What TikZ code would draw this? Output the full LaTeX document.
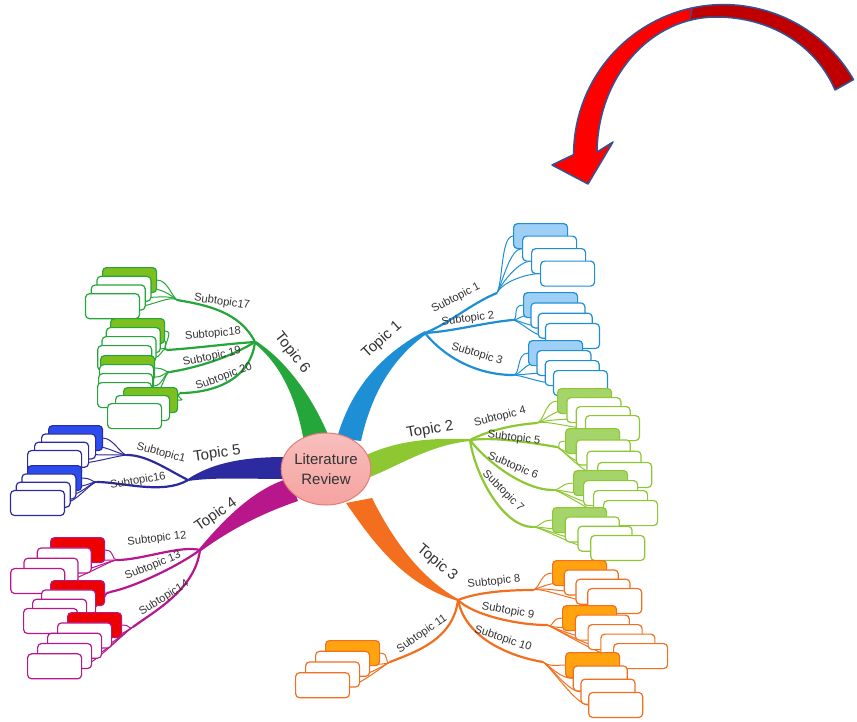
\documentclass[tikz,border=0pt]{standalone}
\usepackage{fontspec}
\setmainfont{Liberation Sans}
\usetikzlibrary{shapes.geometric}
\pgfdeclarelayer{back}
\pgfsetlayers{back,main}

\definecolor{tblue}{HTML}{1E8FD5}
\definecolor{tbluefill}{HTML}{9ECFF5}
\definecolor{tgreen}{HTML}{8DC832}
\definecolor{tgreenfill}{HTML}{A5D46A}
\definecolor{torange}{HTML}{F36E1E}
\definecolor{torangefill}{HTML}{FFA30F}
\definecolor{tmagenta}{HTML}{B8178C}
\definecolor{tred}{HTML}{EE0000}
\definecolor{tindigo}{HTML}{2B2B9F}
\definecolor{tindigofill}{HTML}{2C4DEE}
\definecolor{tdkgreen}{HTML}{24A63A}
\definecolor{tdkgreenfill}{HTML}{7CBF1F}
\definecolor{arrowred}{HTML}{FF0000}
\definecolor{arrowdark}{HTML}{C00000}
\definecolor{arrowedge}{HTML}{2F5597}
\definecolor{txt}{HTML}{333333}
\definecolor{hubfill}{HTML}{F5A3A0}
\definecolor{hubedge}{HTML}{E47B78}

% stack of leaf boxes: name, line colour, first fill, x, y, dx, dy, count
\newcommand{\leaves}[8]{%
  \node[leaf, draw=#2, fill=#3] (#1-1) at (#4,#5) {};
  \foreach \k in {2,...,#8}
    \node[leaf, draw=#2] (#1-\k) at ({#4+(\k-1)*(#6)},{#5+(\k-1)*(#7)}) {};
}
% thin lines from a fan point to every box of a stack
\newcommand{\fanout}[6]{%
  \begin{pgfonlayer}{back}
  \foreach \k in {1,...,#3}
    \draw[fan, #2] (#1f) .. controls +(#4) and +(#6) .. (#1-\k.#5);
  \end{pgfonlayer}
}
% outline of the curved arrow
\newcommand{\arrowpath}{([shift={(-30:150)}]ac) arc[start angle=-30,end angle=-180,radius=150]
  -- (552,165) -- (588,184) -- (613,142) -- (597,152)
  .. controls (598,75) and (652,17) .. (716,17)
  .. controls (770,17) and (816,45) .. (835,90) -- cycle}

\begin{document}
\begin{tikzpicture}[x=1pt,y=-1pt,
  leaf/.style={rectangle, rounded corners=4pt, anchor=north west, minimum width=54pt,
    minimum height=25pt, inner sep=0pt, line width=1.2pt, fill=white},
  fan/.style={line width=1pt},
  sub/.style={line width=2.2pt},
  sublbl/.style={font=\fontsize{11.2}{13}\selectfont, text=txt, inner sep=0.5pt},
  toplbl/.style={font=\fontsize{15}{17}\selectfont, text=txt, inner sep=0.5pt},
  hub/.style={ellipse, minimum width=88pt, minimum height=72pt, inner sep=0pt, top color=hubfill!70!white,
    bottom color=hubfill, draw=hubedge, line width=1pt, align=center, text=txt, font=\fontsize{15}{20}\selectfont}]

\useasboundingbox (0,0) rectangle (857,721);

% big curved arrow
\coordinate (ac) at (723.6,154.6);
\fill[arrowred] \arrowpath;
\fill[arrowdark] ([shift={(-30:150)}]ac) arc[start angle=-30,end angle=-102,radius=150]
  -- (690,19) .. controls (700,17.5) and (708,17) .. (716,17)
  .. controls (770,17) and (816,45) .. (835,90) -- cycle;
\draw[arrowedge, line width=1.2pt] ([shift={(-102:150)}]ac) -- (690,19);
\draw[arrowedge, line width=1.5pt, line join=round] \arrowpath;

% junctions
\coordinate (t1) at (425,333);
\coordinate (t2) at (470,440);
\coordinate (t3) at (458,600);
\coordinate (t4) at (200,550);
\coordinate (t5) at (188,480);
\coordinate (t6) at (255,342);

% main branches
\fill[tblue] (337,438) .. controls (350,392) and (378,356) .. (425,331)
  -- (425,335) .. controls (388,362) and (370,400) .. (361,441) -- cycle;
\fill[tgreen] (366,455) .. controls (400,440) and (430,438) .. (470,439)
  -- (470,441) .. controls (430,445) and (400,465) .. (370,477) -- cycle;
\fill[torange] (346,503) .. controls (375,545) and (405,585) .. (458,601)
  -- (458,599) .. controls (415,575) and (388,530) .. (372,498) -- cycle;
\fill[tmagenta] (290,478) .. controls (255,488) and (225,518) .. (199,549)
  -- (201,551) .. controls (230,530) and (260,514) .. (298,501) -- cycle;
\fill[tindigo] (285,457) .. controls (250,457) and (215,461) .. (188,479)
  -- (188,481) .. controls (215,477) and (250,479) .. (285,479) -- cycle;
\fill[tdkgreen] (304,442) .. controls (297,402) and (283,366) .. (254,343)
  -- (256,341) .. controls (288,362) and (314,400) .. (329,437) -- cycle;

% fan points
\coordinate (s1f) at (497,293);
\coordinate (s2f) at (512,320);
\coordinate (s3f) at (513,375);
\coordinate (s4f) at (537,423);
\coordinate (s5f) at (557,447);
\coordinate (s6f) at (553,490);
\coordinate (s7f) at (533,527);
\coordinate (s8f) at (533,590);
\coordinate (s9f) at (547,625);
\coordinate (s10f) at (543,662);
\coordinate (s11f) at (390,662);
\coordinate (s12f) at (117,560);
\coordinate (s13f) at (110,592);
\coordinate (s14f) at (133,627);
\coordinate (s15f) at (127,455);
\coordinate (s16f) at (97,482);
\coordinate (s17f) at (177,300);
\coordinate (s18f) at (167,350);
\coordinate (s19f) at (170,372);
\coordinate (s20f) at (180,393);

% subtopic lines
\draw[sub, tblue] (t1) .. controls +(25,-10) and +(-25,10) .. (s1f);
\draw[sub, tblue] (t1) .. controls +(30,-2) and +(-30,3) .. (s2f);
\draw[sub, tblue] (t1) .. controls +(20,25) and +(-35,0) .. (s3f);
\draw[sub, tgreen] (t2) .. controls +(20,-10) and +(-25,2) .. (s4f);
\draw[sub, tgreen] (t2) .. controls +(25,-3) and +(-30,-5) .. (s5f);
\draw[sub, tgreen] (t2) .. controls +(15,20) and +(-30,0) .. (s6f);
\draw[sub, tgreen] (t2) .. controls +(5,35) and +(-30,0) .. (s7f);
\draw[sub, torange] (t3) .. controls +(20,-8) and +(-25,0) .. (s8f);
\draw[sub, torange] (t3) .. controls +(15,15) and +(-30,0) .. (s9f);
\draw[sub, torange] (t3) .. controls +(8,40) and +(-30,-5) .. (s10f);
\draw[sub, torange] (t3) .. controls +(-5,40) and +(25,-10) .. (s11f);
\draw[sub, tmagenta] (t4) .. controls +(-20,-5) and +(25,0) .. (s12f);
\draw[sub, tmagenta] (t4) .. controls +(-20,15) and +(25,-5) .. (s13f);
\draw[sub, tmagenta] (t4) .. controls +(-5,40) and +(20,-15) .. (s14f);
\draw[sub, tindigo] (t5) .. controls +(-20,-10) and +(20,0) .. (s15f);
\draw[sub, tindigo] (t5) .. controls +(-25,15) and +(25,0) .. (s16f);
\draw[sub, tdkgreen] (t6) .. controls +(-15,-30) and +(30,5) .. (s17f);
\draw[sub, tdkgreen] (t6) .. controls +(-30,2) and +(30,-2) .. (s18f);
\draw[sub, tdkgreen] (t6) .. controls +(-25,15) and +(30,-5) .. (s19f);
\draw[sub, tdkgreen] (t6) .. controls +(-5,40) and +(30,0) .. (s20f);

% centre
\node[hub] (hub) at (326,469) {Literature\\Review};

% topic labels
\node[toplbl, rotate=42] (lt1) at (382,340) {Topic 1};
\node[toplbl, rotate=10] (lt2) at (430,430) {Topic 2};
\node[toplbl, rotate=-40] (lt3) at (437,563) {Topic 3};
\node[toplbl, rotate=35] (lt4) at (216,515) {Topic 4};
\node[toplbl, rotate=8] (lt5) at (217,454) {Topic 5};
\node[toplbl, rotate=-52] (lt6) at (292,353) {Topic 6};

% subtopic labels
\node[sublbl, rotate=28] (l1) at (456,298) {Subtopic 1};
\node[sublbl, rotate=8] (l2) at (468,319) {Subtopic 2};
\node[sublbl, rotate=-17] (l3) at (477,354) {Subtopic 3};
\node[sublbl, rotate=14] (l4) at (500,417) {Subtopic 4};
\node[sublbl, rotate=-7] (l5) at (514,438) {Subtopic 5};
\node[sublbl, rotate=-22] (l6) at (513,466) {Subtopic 6};
\node[sublbl, rotate=-45] (l7) at (503,491) {Subtopic 7};
\node[sublbl, rotate=6] (l8) at (494,582) {Subtopic 8};
\node[sublbl, rotate=-10] (l9) at (508,611) {Subtopic 9};
\node[sublbl, rotate=-18] (l10) at (503,639) {Subtopic 10};
\node[sublbl, rotate=35] (l11) at (422,634) {Subtopic 11};
\node[sublbl, rotate=7] (l12) at (157,539) {Subtopic 12};
\node[sublbl, rotate=22] (l13) at (153,566) {Subtopic 13};
\node[sublbl, rotate=32] (l14) at (164,598) {Subtopic14};
\node[sublbl, rotate=-15] (l15) at (161,453) {Subtopic1};
\node[sublbl, rotate=10] (l16) at (138,481) {Subtopic16};
\node[sublbl, rotate=-8] (l17) at (222,302) {Subtopic17};
\node[sublbl, rotate=5] (l18) at (213,334) {Subtopic18};
\node[sublbl, rotate=12] (l19) at (212,357) {Subtopic 19};
\node[sublbl, rotate=20] (l20) at (224,377) {Subtopic 20};

% leaf boxes
\leaves{s1}{tblue}{tbluefill}{513}{223}{9}{12.5}{4}
\leaves{s2}{tblue}{tbluefill}{523}{292}{7.3}{10.3}{4}
\leaves{s3}{tblue}{tbluefill}{528}{340}{8.3}{10}{4}
\leaves{s4}{tgreen}{tgreenfill}{557}{388}{9.3}{9}{4}
\leaves{s5}{tgreen}{tgreenfill}{565}{428}{10.7}{11.3}{4}
\leaves{s6}{tgreen}{tgreenfill}{573}{470}{10}{10}{4}
\leaves{s7}{tgreen}{tgreenfill}{552}{507}{12.7}{9.3}{4}
\leaves{s8}{torange}{torangefill}{552}{560}{11.7}{9.3}{4}
\leaves{s9}{torange}{torangefill}{562}{605}{12.75}{9.5}{5}
\leaves{s10}{torange}{torangefill}{565}{652}{7.7}{13.3}{4}
\leaves{s11}{torange}{torangefill}{325}{640}{-10}{10.7}{4}
\leaves{s12}{tmagenta}{tred}{50}{537}{-13.3}{10.3}{4}
\leaves{s13}{tmagenta}{tred}{50}{580}{-9}{9.3}{4}
\leaves{s14}{tmagenta}{tred}{67}{612}{-10}{10.3}{5}
\leaves{s15}{tindigo}{tindigofill}{48}{425}{-7}{8.3}{4}
\leaves{s16}{tindigo}{tindigofill}{27}{465}{-5.7}{8.3}{4}
\leaves{s17}{tdkgreen}{tdkgreenfill}{102}{267}{-5.7}{8.7}{4}
\leaves{s18}{tdkgreen}{tdkgreenfill}{110}{318}{-4.3}{9}{4}
\leaves{s19}{tdkgreen}{tdkgreenfill}{100}{355}{-1}{9}{4}
\leaves{s20}{tdkgreen}{tdkgreenfill}{123}{387}{-8}{8}{3}

% fans
\fanout{s1}{tblue}{4}{6,-12}{west}{-12,0}
\fanout{s2}{tblue}{4}{8,0}{west}{-12,0}
\fanout{s3}{tblue}{4}{8,0}{west}{-12,0}
\fanout{s4}{tgreen}{4}{8,-3}{west}{-12,0}
\fanout{s5}{tgreen}{4}{6,3}{west}{-12,0}
\fanout{s6}{tgreen}{4}{8,0}{west}{-12,0}
\fanout{s7}{tgreen}{4}{8,0}{west}{-12,0}
\fanout{s8}{torange}{4}{8,-3}{west}{-12,0}
\fanout{s9}{torange}{5}{8,3}{west}{-12,0}
\fanout{s10}{torange}{4}{8,5}{west}{-12,0}
\fanout{s11}{torange}{4}{-6,3}{east}{10,0}
\fanout{s12}{tmagenta}{4}{-6,0}{east}{10,0}
\fanout{s13}{tmagenta}{4}{-6,0}{east}{10,0}
\fanout{s14}{tmagenta}{5}{-6,3}{east}{10,0}
\fanout{s15}{tindigo}{4}{-6,0}{east}{10,0}
\fanout{s16}{tindigo}{4}{-6,0}{east}{10,0}
\fanout{s17}{tdkgreen}{4}{-6,-5}{east}{10,0}
\fanout{s18}{tdkgreen}{4}{-6,-3}{east}{10,0}
\fanout{s19}{tdkgreen}{4}{-6,0}{east}{10,0}
\fanout{s20}{tdkgreen}{3}{-6,5}{east}{10,0}
\end{tikzpicture}
\end{document}
